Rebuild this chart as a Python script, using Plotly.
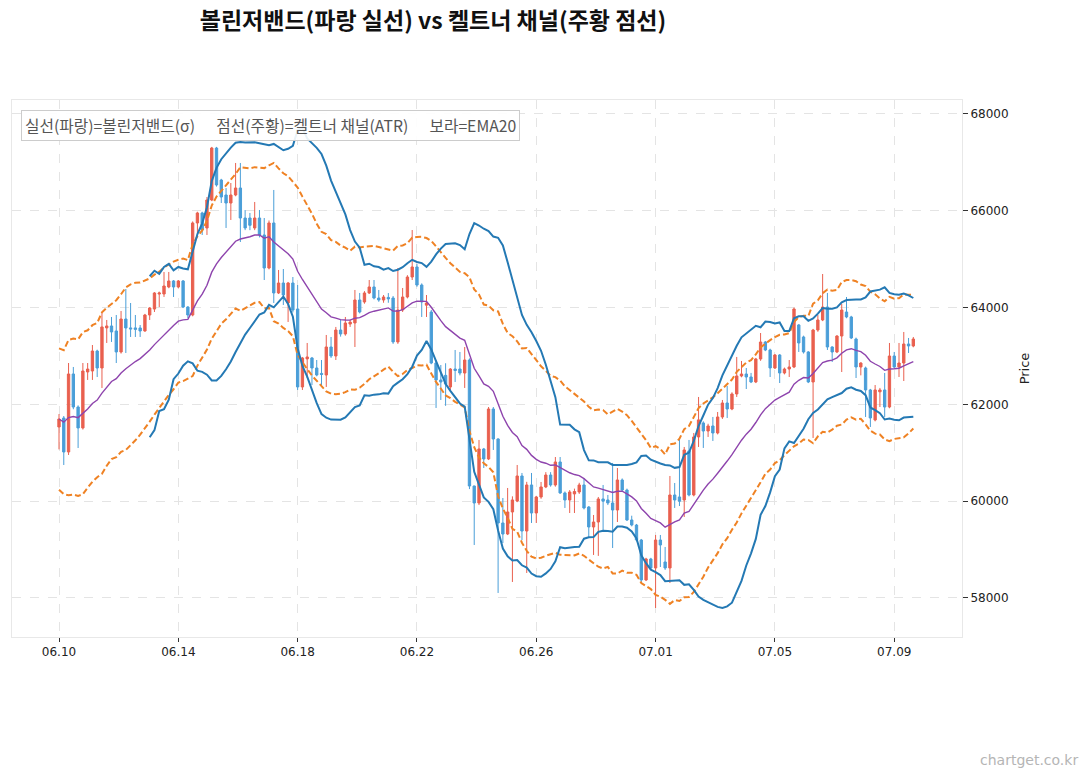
import pandas as pd
import plotly.graph_objects as go

# ---- data (4h candles) ----
open_ = [61533,61719,61017,62628,61946,61513,62670,62690,63103,62752,
         63580,63620,63517,63083,63764,63580,63580,63579,63517,63847,
         63970,64280,64281,64426,64550,64426,64550,64012,63847,65748,
         65955,65645,66223,67297,66636,66326,66161,66326,66471,65851,
         65851,65645,65851,65500,64818,65748,64302,64508,64095,64508,
         63971,62360,62940,62959,62752,62640,62607,63186,63000,63537,
         63455,63660,63682,64157,64116,64302,64426,64198,64157,64210,
         64198,63290,63950,64219,64632,64839,64467,64050,63909,62855,
         62504,62600,62360,62731,62731,62648,62917,60314,59963,61079,
         60872,61905,61285,59550,59322,59777,60004,60521,59384,60335,
         59756,60087,60294,60541,60335,60810,60170,60025,60150,60190,
         60335,59880,59467,59570,60046,60025,59963,59818,60438,60231,
         59612,59508,59198,58372,58806,58620,59198,58744,58620,60128,
         60087,60025,61038,60128,61327,61616,61450,61554,61409,61740,
         62029,61905,62215,62587,62628,62566,62463,62938,63289,63124,
         62752,63021,62649,62731,62773,63641,63393,63083,62463,63537,
         63744,64012,63186,63083,63413,63909,63806,63351,62773,62752,
         62298,61678,62260,62298,61946,63000,62773,62855,63248,63207]
high = [61800,61760,62855,62773,61980,62855,62855,63227,63130,63889,
        63744,63806,63847,63930,64384,64095,63847,63640,63870,64010,
        64320,64330,64736,64736,64570,64570,64570,64030,65780,65980,
        65980,66285,67320,67320,66660,66470,66574,66988,66988,66016,
        65955,66182,66016,65851,65800,66430,64777,64797,64530,64632,
        64467,62980,63269,62980,62917,62917,63434,63393,63600,63744,
        63806,63750,64364,64302,64340,64570,64570,64364,64260,64300,
        64240,64818,64405,64670,65603,64900,64500,64260,63950,62917,
        62814,62850,62750,63124,63083,63186,62950,60320,61265,61100,
        61946,61946,61300,60066,60273,60100,60748,60583,60400,60583,
        60110,60397,60600,60600,60913,60913,60200,60230,60260,60380,
        60480,59900,59715,60087,60335,60128,60790,60686,60470,60260,
        59700,59530,59220,58830,58830,59302,59302,59054,60521,60376,
        61306,61120,61265,61409,62153,61650,61600,61740,61843,62091,
        62380,62250,62980,62897,62752,62650,62960,63475,63310,63150,
        63040,63040,62760,62917,64000,63660,63420,63100,63560,63847,
        64694,64302,63200,63430,64074,64219,63830,63380,62870,62780,
        62320,62400,62340,62649,63269,63083,63269,63496,63372,63393]
low = [61070,60748,60955,61900,61099,61480,62505,62505,62566,62339,
       63269,63290,62855,63050,63062,63393,63393,63393,63500,63744,
       63909,64012,64220,64400,64219,64400,63990,63785,63820,65541,
       65500,65500,66200,66500,66161,65645,65810,66300,65355,65600,
       65600,65600,65450,64570,64790,64095,64280,64054,63703,63900,
       62298,62298,62545,62400,62580,62360,62360,62960,62917,63400,
       63420,63600,63186,63880,64080,64280,64170,64120,64100,64100,
       63250,63250,63909,64190,64570,64430,63806,63806,62830,61926,
       62091,61970,62300,62463,62600,62339,60250,59095,59920,60686,
       60850,61058,58104,59136,59300,58331,59980,59198,58517,59550,
       59550,60050,60270,60300,60300,60150,59860,59756,59756,60150,
       59830,59260,58889,58870,59405,59920,59033,59570,60200,59590,
       59480,59170,58310,58350,58600,57793,58640,58580,58310,59860,
       59900,59674,60100,60100,61120,61100,61327,61244,61380,61700,
       61719,61880,62153,62560,62318,62440,62440,62900,63100,62566,
       62730,62442,62620,62566,62750,63083,63050,62440,61306,63500,
       63720,63124,62876,63060,62669,63780,63350,62545,62600,61740,
       61533,61650,61946,61740,61920,62750,62566,62483,63062,63180]
close = [61698,61017,62628,61946,61513,62690,62730,63103,62752,63600,
         63620,63496,63083,63764,63579,63560,63550,63517,63847,63992,
         64302,64302,64446,64550,64426,64550,64012,63847,65748,65955,
         65603,66223,67297,66533,66285,66161,66326,66471,65851,65645,
         65700,65851,65500,64818,65748,64302,64508,64260,64508,63950,
         62360,62959,62980,62752,62607,62620,63186,63000,63537,63455,
         63682,63700,64157,63909,64302,64426,64198,64157,64219,64180,
         63290,63950,64219,64632,64839,64467,64116,64095,62855,62504,
         62463,62420,62731,62700,62648,62917,60314,59963,61079,60872,
         61905,61285,59550,59322,59777,60025,60521,59384,60335,59756,
         60087,60294,60541,60335,60810,60170,60025,60190,60200,60335,
         59860,59467,59570,60046,60000,59963,59818,60438,60231,59612,
         59508,59198,58372,58806,58620,59198,59095,58620,60128,60025,
         60000,61058,60128,61327,61680,61450,61554,61409,61740,62029,
         61905,62215,62587,62628,62566,62463,62938,63289,63124,62752,
         63021,62649,62731,62773,63971,63269,63083,62463,63537,63744,
         64012,63186,63083,63413,63950,63806,63372,62773,62855,62298,
         61719,62298,62298,61946,63000,62773,62855,63248,63207,63351]

tick_pos = [0, 25, 50, 75, 100, 125, 150, 175]
tick_text = ["06.10", "06.14", "06.18", "06.22", "06.26", "07.01", "07.05", "07.09"]
y_ticks = [58000, 60000, 62000, 64000, 66000, 68000]

# ---- indicators ----
df = pd.DataFrame({"o": open_, "h": high, "l": low, "c": close})
x = list(range(len(df)))
ema = df["c"].ewm(span=20, adjust=False).mean()
sma = df["c"].rolling(20).mean()
sd = df["c"].rolling(20).std(ddof=0)
bb_up, bb_dn = sma + 2 * sd, sma - 2 * sd
prev_c = df["c"].shift(1)
tr = pd.concat([df["h"] - df["l"], (df["h"] - prev_c).abs(), (df["l"] - prev_c).abs()], axis=1).max(axis=1)
atr = tr.ewm(alpha=1 / 20, adjust=False).mean()
KC_MULT = 2.0
kc_up, kc_dn = ema + KC_MULT * atr, ema - KC_MULT * atr

RED = "#e9604f"
BLUE = "#4a9ed8"
BB = "#2479b4"
KC = "#ef8224"
EMA_C = "#8e44ad"

fig = go.Figure()
fig.add_trace(go.Candlestick(
    x=x, open=df["o"], high=df["h"], low=df["l"], close=df["c"],
    increasing=dict(line=dict(color=RED, width=1), fillcolor=RED),
    decreasing=dict(line=dict(color=BLUE, width=1), fillcolor=BLUE),
    whiskerwidth=0, showlegend=False, hoverinfo="skip"))
for s in (kc_up, kc_dn):
    fig.add_trace(go.Scatter(x=x, y=s, mode="lines", line=dict(color=KC, width=2, dash="6px,3px"),
                             showlegend=False, hoverinfo="skip"))
for s in (bb_up, bb_dn):
    fig.add_trace(go.Scatter(x=x, y=s, mode="lines", line=dict(color=BB, width=2),
                             showlegend=False, hoverinfo="skip"))
fig.add_trace(go.Scatter(x=x, y=ema, mode="lines", line=dict(color=EMA_C, width=1.4),
                         showlegend=False, hoverinfo="skip"))

fig.update_layout(
    width=1091, height=780,
    margin=dict(l=12, r=129, t=100, b=143),
    paper_bgcolor="white", plot_bgcolor="white",
    font=dict(family="DejaVu Sans", color="#222"),
    title=dict(text="<b>볼린저밴드(파랑 실선) vs 켈트너 채널(주황 점선)</b>",
               font=dict(family="Noto Sans CJK KR", size=23, color="#111"),
               x=433 / 1091, xanchor="center", xref="container",
               y=1 - 21 / 780, yanchor="middle", yref="container"),
    showlegend=False,
    xaxis=dict(range=[-9.85, 189.2], tickmode="array", tickvals=tick_pos, ticktext=tick_text,
               showgrid=True, gridcolor="#e4e4e4", griddash="dash", gridwidth=1,
               ticks="outside", ticklen=4, tickcolor="#333", tickfont=dict(size=12, color="#222"),
               showline=True, linecolor="#e8e8e8", mirror=True, zeroline=False,
               rangeslider=dict(visible=False)),
    yaxis=dict(range=[57194, 68289], side="right", tickmode="array", tickvals=y_ticks,
               ticktext=[str(v) for v in y_ticks],
               showgrid=True, gridcolor="#e4e4e4", griddash="dash", gridwidth=1,
               ticks="outside", ticklen=5, tickcolor="#333", tickfont=dict(size=12, color="#222"),
               showline=True, linecolor="#e8e8e8", mirror=True, zeroline=False,
               title=dict(text="Price", font=dict(size=13, color="#222"), standoff=12)),
)
gap = "\u00a0" * 6
fig.add_annotation(text=f"실선(파랑)=볼린저밴드(σ){gap}점선(주황)=켈트너 채널(ATR){gap}보라=EMA20",
                   xref="paper", yref="paper", x=0.009, y=0.982, xanchor="left", yanchor="top",
                   showarrow=False, font=dict(family="Noto Sans CJK KR", size=15.75, color="#555"),
                   bgcolor="rgba(255,255,255,0.9)", bordercolor="#cccccc", borderwidth=1, borderpad=3)
fig.add_annotation(text="chartget.co.kr", xref="paper", yref="paper",
                   x=(1080 - 12) / 950, y=-(760 - 637) / 537, xanchor="right", yanchor="middle",
                   showarrow=False, font=dict(family="DejaVu Sans", size=14, color="#b5b5b5"))

fig.write_html("out.html")
